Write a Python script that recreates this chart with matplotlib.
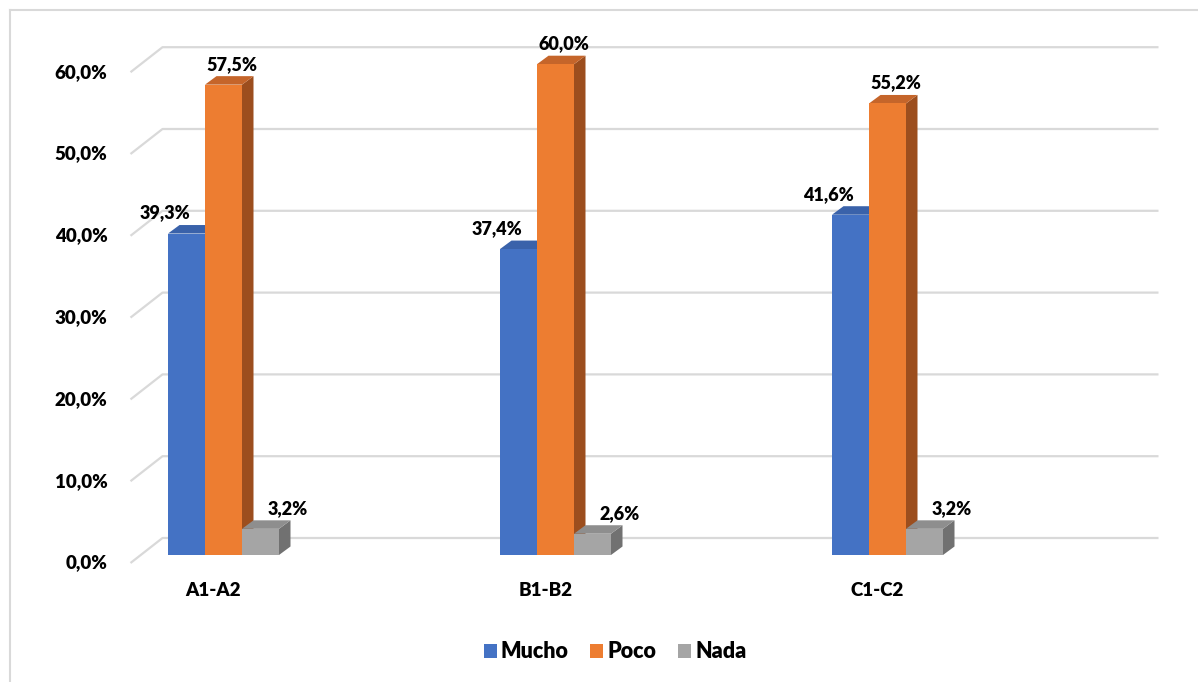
import matplotlib.pyplot as plt
from matplotlib.patches import Patch
from matplotlib.lines import Line2D

categories = ['A1-A2', 'B1-B2', 'C1-C2']
series = ['Mucho', 'Poco', 'Nada']
mucho = [39.3, 37.4, 41.6]
poco = [57.5, 60.0, 55.2]
nada = [3.2, 2.6, 3.2]
ticks = [0, 10, 20, 30, 40, 50, 60]

values = [mucho, poco, nada]
front_col = ['#4472C4', '#ED7D31', '#A5A5A5']
top_col = ['#3A62AA', '#C5652A', '#8E8E8E']
side_col = ['#2F5597', '#9C4E1E', '#717171']

plt.rcParams['font.family'] = ['Lato', 'DejaVu Sans']
WT = 'heavy'

W, H = 1198, 682
fig = plt.figure(figsize=(W / 100, H / 100), dpi=100)
ax = fig.add_axes([0, 0, 1, 1])

# pixel scales used for the fake 3d offsets
px_x = 332.0      # pixels per category
px_y = 8.18       # pixels per percent
x0_px, y0_px = 213.5, 563.0
ax.set_xlim(-x0_px / px_x, (W - x0_px) / px_x)
ax.set_ylim((y0_px - H) / px_y, y0_px / px_y)
ax.axis('off')

# depth offsets (data units)
back_dx, back_dy = 32 / px_x, 25 / px_y
bar_dx, bar_dy = 10 / px_x, 8 / px_y
dep_dx, dep_dy = 11.5 / px_x, 8.5 / px_y
bw = 37 / px_x
x_left, x_right = -0.25, 2.75

# walls / gridlines
for t in ticks:
    ax.plot([x_left, x_left + back_dx, x_right + back_dx],
            [t, t + back_dy, t + back_dy], color='#d9d9d9', lw=1.6, zorder=1,
            solid_capstyle='butt')
    ax.text(x_left - 23 / px_x, t, f'{t:.1f}%'.replace('.', ','),
            ha='right', va='center', fontsize=13.5, fontweight=WT)

label_dx = [-22 / px_x, 8 / px_x, 27 / px_x]
for i, cat in enumerate(categories):
    c = i + bar_dx
    for j in range(3):
        v = values[j][i]
        a = c + (j - 1.5) * bw
        b = a + bw
        base = bar_dy
        top = bar_dy + v
        ax.fill([b, b + dep_dx, b + dep_dx, b], [base, base + dep_dy, top + dep_dy, top],
                color=side_col[j], lw=0, zorder=2 + j)
        ax.fill([a, b, b + dep_dx, a + dep_dx], [top, top, top + dep_dy, top + dep_dy],
                color=top_col[j], lw=0, zorder=2 + j)
        ax.fill([a, b, b, a], [base, base, top, top], color=front_col[j], lw=0, zorder=2 + j)
        ax.text((a + b) / 2 + label_dx[j], top + dep_dy + 12 / px_y,
                f'{v:.1f}%'.replace('.', ','), ha='center', va='center',
                fontsize=13, fontweight=WT, zorder=10)
    ax.text(i, -27 / px_y, cat, ha='center', va='center', fontsize=13.5, fontweight=WT)

handles = [Patch(facecolor=front_col[j], edgecolor='none') for j in range(3)]
fig.legend(handles, series, loc='center', bbox_to_anchor=(615 / W, 1 - 652 / H),
           ncol=3, frameon=False, handlelength=0.6, handleheight=0.6,
           handletextpad=0.2, columnspacing=1.0, prop={'weight': WT, 'size': 15.5})

# outer frame
fig.add_artist(Line2D([10 / W, 10 / W], [0, 1 - 10 / H], color='#d9d9d9', lw=1.5))
fig.add_artist(Line2D([10 / W, 1], [1 - 10 / H, 1 - 10 / H], color='#d9d9d9', lw=1.5))

fig.savefig('out.png', dpi=100)
